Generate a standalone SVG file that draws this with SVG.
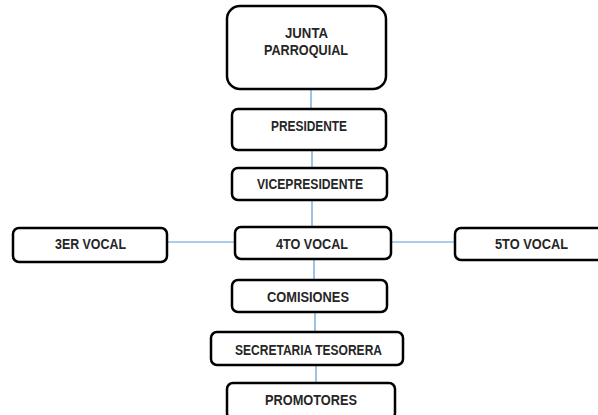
<svg xmlns="http://www.w3.org/2000/svg" width="598" height="415" viewBox="0 0 598 415">
<style>
.box{fill:#fff;stroke:#000;stroke-width:2.5}
.lbl{font-family:"Liberation Sans",Arial,sans-serif;font-weight:bold;font-size:14px;fill:#262626;text-anchor:middle}
.con{stroke:#5b9bd5;stroke-width:1.2;fill:none}
</style>
<rect width="598" height="415" fill="#fff"/>
<g id="connectors">
<line class="con" x1="311" y1="89" x2="311" y2="109"/>
<line class="con" x1="312" y1="150" x2="312" y2="168"/>
<line class="con" x1="312" y1="200" x2="312" y2="227"/>
<line class="con" x1="167" y1="242" x2="235" y2="242"/>
<line class="con" x1="391" y1="242" x2="455" y2="242"/>
<line class="con" x1="314" y1="259" x2="314" y2="280"/>
<line class="con" x1="315" y1="312" x2="315" y2="332"/>
<line class="con" x1="316" y1="365" x2="316" y2="383"/>
</g>
<g id="junta">
<rect class="box" x="227" y="6" width="159" height="83" rx="13"/>
<text class="lbl" x="306.5" y="38" textLength="43" lengthAdjust="spacingAndGlyphs">JUNTA</text>
<text class="lbl" x="306" y="55" textLength="84" lengthAdjust="spacingAndGlyphs">PARROQUIAL</text>
</g>
<g id="presidente">
<rect class="box" x="232" y="109" width="154" height="41" rx="6"/>
<text class="lbl" x="309" y="131" textLength="76" lengthAdjust="spacingAndGlyphs">PRESIDENTE</text>
</g>
<g id="vicepresidente">
<rect class="box" x="232" y="168" width="155" height="32" rx="6"/>
<text class="lbl" x="310" y="189" textLength="106" lengthAdjust="spacingAndGlyphs">VICEPRESIDENTE</text>
</g>
<g id="vocal3">
<rect class="box" x="13" y="228" width="154" height="34" rx="6"/>
<text class="lbl" x="90.5" y="249" textLength="71" lengthAdjust="spacingAndGlyphs">3ER VOCAL</text>
</g>
<g id="vocal4">
<rect class="box" x="235" y="227" width="156" height="32" rx="6"/>
<text class="lbl" x="312" y="248.5" textLength="72" lengthAdjust="spacingAndGlyphs">4TO VOCAL</text>
</g>
<g id="vocal5">
<rect class="box" x="455" y="228" width="152" height="32" rx="6"/>
<text class="lbl" x="531.5" y="249" textLength="73" lengthAdjust="spacingAndGlyphs">5TO VOCAL</text>
</g>
<g id="comisiones">
<rect class="box" x="232" y="280" width="155" height="32" rx="6"/>
<text class="lbl" x="308" y="302" textLength="82" lengthAdjust="spacingAndGlyphs">COMISIONES</text>
</g>
<g id="secretaria">
<rect class="box" x="211" y="332" width="192" height="33" rx="6"/>
<text class="lbl" x="308.5" y="355" textLength="147" lengthAdjust="spacingAndGlyphs">SECRETARIA TESORERA</text>
</g>
<g id="promotores">
<rect class="box" x="227" y="383" width="168" height="36" rx="6"/>
<text class="lbl" x="311" y="405" textLength="92" lengthAdjust="spacingAndGlyphs">PROMOTORES</text>
</g>
</svg>
